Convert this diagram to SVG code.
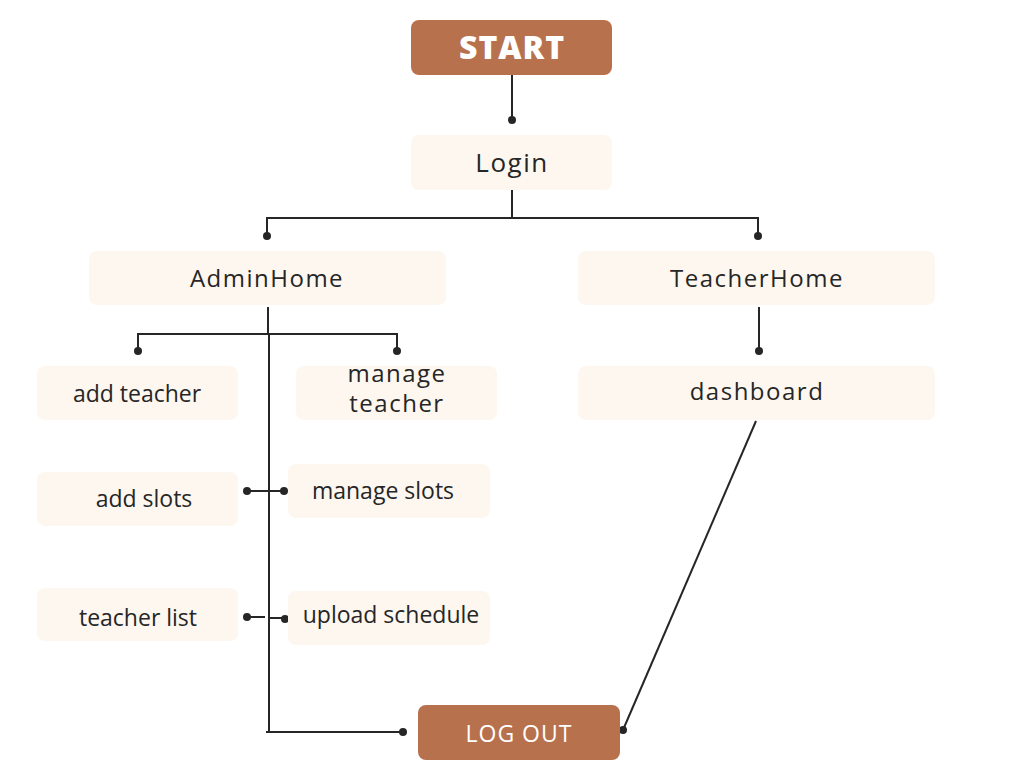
<svg xmlns="http://www.w3.org/2000/svg" width="1024" height="768" viewBox="0 0 1024 768">
<style>
.dark{fill:#B8714D}
.light{fill:#FDF7F0}
.t{font-family:"Open Sans","Liberation Sans",sans-serif;fill:#262626;text-anchor:middle}
.w{font-family:"Open Sans","Liberation Sans",sans-serif;fill:#FFFFFF;text-anchor:middle}
.s{font-size:23px}
.b{font-size:24px;letter-spacing:1.5px}
.ln{stroke:#262626;stroke-width:2;fill:none}
.dot{fill:#262626}
</style>
<rect width="1024" height="768" fill="#FFFFFF"/>
<g id="connectors">
<path class="ln" d="M512,75 V120"/>
<path class="ln" d="M512,190 V218 M267,236 V218 H758 V236"/>
<path class="ln" d="M268,307 V334 M138,351 V334 H397 V351"/>
<path class="ln" d="M269,334 V732 M266,732 H403"/>
<path class="ln" d="M247,491 H285"/>
<path class="ln" d="M247,617 H265 M269,618 H285"/>
<path class="ln" d="M759,307 V351"/>
<path class="ln" d="M756,421 L623,730"/>
<circle class="dot" cx="512" cy="120" r="4"/>
<circle class="dot" cx="267" cy="236" r="4"/>
<circle class="dot" cx="758" cy="236" r="4"/>
<circle class="dot" cx="138" cy="351" r="4"/>
<circle class="dot" cx="397" cy="351" r="4"/>
<circle class="dot" cx="759" cy="351" r="4"/>
<circle class="dot" cx="247" cy="491" r="4"/>
<circle class="dot" cx="284" cy="491" r="4"/>
<circle class="dot" cx="247" cy="617" r="4"/>
<circle class="dot" cx="285" cy="619" r="4"/>
<circle class="dot" cx="403" cy="732" r="4"/>
<circle class="dot" cx="623" cy="730" r="4"/>
</g>
<g id="start">
<rect class="dark" x="411" y="20" width="201" height="55" rx="8"/>
<text class="w" x="512" y="59" font-size="32" font-weight="800" letter-spacing="1">START</text>
</g>
<g id="login">
<rect class="light" x="411" y="135" width="201" height="55" rx="8"/>
<text class="t" x="512" y="172" font-size="26" letter-spacing="1.5">Login</text>
</g>
<g id="adminhome">
<rect class="light" x="89" y="251" width="357" height="54" rx="8"/>
<text class="t b" x="267" y="287">AdminHome</text>
</g>
<g id="teacherhome">
<rect class="light" x="578" y="251" width="357" height="54" rx="8"/>
<text class="t b" x="757" y="287" letter-spacing="1.7">TeacherHome</text>
</g>
<g id="addteacher">
<rect class="light" x="37" y="366" width="201" height="54" rx="8"/>
<text class="t s" x="137" y="402">add teacher</text>
</g>
<g id="manageteacher">
<rect class="light" x="296" y="366" width="201" height="54" rx="8"/>
<text class="t b" x="397" y="382" letter-spacing="1.8">manage</text>
<text class="t b" x="397" y="412" letter-spacing="1.8">teacher</text>
</g>
<g id="dashboard">
<rect class="light" x="578" y="366" width="357" height="54" rx="8"/>
<text class="t b" x="757" y="400">dashboard</text>
</g>
<g id="addslots">
<rect class="light" x="37" y="472" width="201" height="54" rx="8"/>
<text class="t s" x="144" y="507">add slots</text>
</g>
<g id="manageslots">
<rect class="light" x="288" y="464" width="202" height="54" rx="8"/>
<text class="t s" x="383" y="499">manage slots</text>
</g>
<g id="teacherlist">
<rect class="light" x="37" y="588" width="201" height="53" rx="8"/>
<text class="t s" x="138" y="626">teacher list</text>
</g>
<g id="uploadschedule">
<rect class="light" x="288" y="591" width="202" height="54" rx="8"/>
<text class="t s" x="391" y="623">upload schedule</text>
</g>
<g id="logout">
<rect class="dark" x="418" y="705" width="202" height="55" rx="8"/>
<text class="w" x="519" y="742" font-size="23" letter-spacing="1">LOG OUT</text>
</g>
</svg>
